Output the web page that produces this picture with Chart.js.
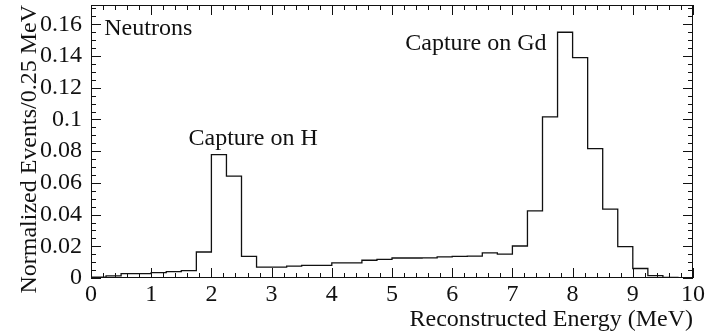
<!DOCTYPE html>
<html>
<head>
<meta charset="utf-8">
<script src="https://cdn.jsdelivr.net/npm/chart.js@4.4.0/dist/chart.umd.min.js"></script>
<style>
  html, body { margin: 0; padding: 0; background: #fff; }
  #wrap { width: 711px; height: 332px; }
</style>
</head>
<body>
<div id="wrap"><canvas id="neutron-chart"></canvas></div>
<script>
// Histogram, 40 bins of 0.25 MeV
const binWidth = 0.25;
const energyMin = 0;
const energyMax = 10;
const eventsPerBin = [
  0.0006, 0.0013, 0.0028, 0.0028, 0.0034, 0.0040, 0.0047, 0.0164,
  0.0778, 0.0642, 0.0137, 0.0069, 0.0069, 0.0075, 0.0080, 0.0080,
  0.0095, 0.0095, 0.0112, 0.0118, 0.0126, 0.0126, 0.0127, 0.0133,
  0.0137, 0.0138, 0.0158, 0.0150, 0.0202, 0.0423, 0.1016, 0.1550,
  0.1390, 0.0816, 0.0435, 0.0198, 0.0060, 0.0015, 0.0004, 0.0000,
];
const xTickStep = 1;
const yTickStep = 0.02;
const yMax = 0.1722;

// labels placed in data coordinates (MeV, events)
const labelTexts = ["Neutrons", "Capture on H", "Capture on Gd"];
const labelX = [0.22, 1.62, 5.22];
const labelY = [0.1531, 0.0842, 0.1437];

const FONT = '"Liberation Serif", "Times New Roman", serif';
const INK = "#111";

const points = eventsPerBin.map((v, i) => ({ x: energyMin + i * binWidth, y: v }));
points.push({ x: energyMax, y: eventsPerBin[eventsPerBin.length - 1] });

// frame + inward ticks on all four sides (ROOT style)
const frameTicks = {
  id: "frameTicks",
  afterDraw(chart) {
    const { ctx, chartArea: a, scales: { x, y } } = chart;
    ctx.save();
    ctx.strokeStyle = INK;
    ctx.lineWidth = 1;
    ctx.strokeRect(a.left + 0.5, a.top + 0.5, a.right - a.left - 1, a.bottom - a.top - 1);

    ctx.beginPath();
    for (let k = 0; k <= 50; k++) {
      const px = Math.round(x.getPixelForValue(k * 0.2)) + 0.5;
      const len = k % 5 === 0 ? 10 : 5;
      ctx.moveTo(px, a.bottom);
      ctx.lineTo(px, a.bottom - len);
      ctx.moveTo(px, a.top);
      ctx.lineTo(px, a.top + len);
    }
    for (let k = 0; k * 0.005 <= yMax; k++) {
      const py = Math.round(y.getPixelForValue(k * 0.005)) + 0.5;
      const len = k % 4 === 0 ? 10 : 5;
      ctx.moveTo(a.left, py);
      ctx.lineTo(a.left + len, py);
      ctx.moveTo(a.right, py);
      ctx.lineTo(a.right - len, py);
    }
    ctx.stroke();

    ctx.fillStyle = INK;
    ctx.font = "24px " + FONT;
    ctx.textBaseline = "alphabetic";
    ctx.textAlign = "left";
    labelTexts.forEach((t, i) => {
      ctx.fillText(t, x.getPixelForValue(labelX[i]), y.getPixelForValue(labelY[i]));
    });
    ctx.restore();
  },
};

new Chart(document.getElementById("neutron-chart"), {
  type: "line",
  data: {
    datasets: [
      {
        data: points,
        stepped: true,
        borderColor: INK,
        borderWidth: 1.3,
        pointRadius: 0,
        fill: false,
      },
    ],
  },
  options: {
    responsive: true,
    maintainAspectRatio: false,
    animation: false,
    layout: { padding: { top: 5, right: 18, bottom: 0, left: 0 } },
    plugins: {
      legend: { display: false },
      tooltip: { enabled: false },
    },
    scales: {
      x: {
        type: "linear",
        min: energyMin,
        max: energyMax,
        grid: { display: false, drawTicks: false },
        border: { display: false },
        ticks: {
          stepSize: xTickStep,
          color: INK,
          padding: 2,
          font: { family: FONT, size: 24 },
        },
        title: {
          display: true,
          text: "Reconstructed Energy (MeV)",
          align: "end",
          color: INK,
          padding: { top: 0, bottom: 0 },
          font: { family: FONT, size: 24, lineHeight: 1 },
        },
        afterFit(scale) {
          scale.height = 54;
          scale.paddingLeft = 0;
          scale.paddingRight = 0;
        },
      },
      y: {
        min: 0,
        max: yMax,
        grid: { display: false, drawTicks: false },
        border: { display: false },
        ticks: {
          stepSize: yTickStep,
          includeBounds: false,
          color: INK,
          padding: 9,
          font: { family: FONT, size: 24 },
          callback: (v) => String(Number(v.toFixed(3))),
        },
        title: {
          display: true,
          text: "Normalized Events/0.25 MeV",
          align: "end",
          color: INK,
          padding: { top: 15, bottom: 0 },
          font: { family: FONT, size: 24 },
        },
        afterFit(scale) {
          scale.width = 91;
          scale.paddingTop = 0;
          scale.paddingBottom = 0;
        },
      },
    },
  },
  plugins: [frameTicks],
});
</script>
</body>
</html>
